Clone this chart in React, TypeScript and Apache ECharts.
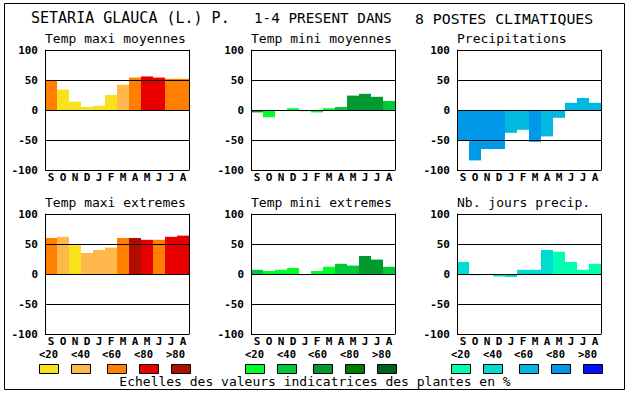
import React, { useEffect, useRef } from "react";
import * as echarts from "echarts";

const MONTHS = ["S", "O", "N", "D", "J", "F", "M", "A", "M", "J", "J", "A"];

const TITLE_PARTS = ["SETARIA GLAUCA (L.) P.", "1-4 PRESENT DANS", "8 POSTES CLIMATIQUES"];
const PANEL_TITLES = [
  "Temp maxi moyennes",
  "Temp mini moyennes",
  "Precipitations",
  "Temp maxi extremes",
  "Temp mini extremes",
  "Nb. jours precip.",
];
const Y_TICKS = [-100, -50, 0, 50, 100];
const LEGEND_LABELS = ["<20", "<40", "<60", "<80", ">80"];
const CAPTION = "Echelles des valeurs indicatrices des plantes en %";

// palettes (class 0..4 => <20 .. >80)
const PAL_TMAX = ["#f8e21c", "#ffb84c", "#ff8000", "#e80000", "#b00c00"];
const PAL_TMIN = ["#00ff24", "#00c838", "#009a30", "#007c00", "#006020"];
const PAL_PREC = ["#00ffb0", "#00dcd0", "#00b8e0", "#0098e8", "#0010ff"];

// series values and their indicator classes
const TMAX_MOY = [50, 34, 14, 5, 7, 25, 42, 54, 56, 54, 52, 52];
const TMAX_MOY_CLS = [2, 0, 0, 0, 0, 0, 1, 2, 3, 3, 2, 2];
const TMIN_MOY = [-4, -12, 0, 3, -2, -4, 3, 5, 24, 27, 22, 15];
const TMIN_MOY_CLS = [2, 0, 0, 0, 0, 0, 0, 1, 2, 2, 2, 1];
const PRECIP = [-50, -84, -65, -65, -38, -33, -53, -44, -13, 12, 20, 12];
const PRECIP_CLS = [3, 3, 3, 3, 2, 2, 3, 2, 2, 2, 2, 2];
const TMAX_EXT = [60, 62, 48, 35, 40, 44, 60, 60, 57, 57, 62, 64];
const TMAX_EXT_CLS = [2, 1, 0, 1, 1, 1, 2, 4, 3, 2, 3, 3];
const TMIN_EXT = [7, 5, 7, 10, 0, 5, 12, 17, 14, 30, 24, 12];
const TMIN_EXT_CLS = [1, 0, 0, 0, 0, 0, 0, 1, 1, 2, 2, 1];
const NB_JOURS = [20, -2, 0, -4, -5, 7, 7, 40, 37, 20, 7, 17];
const NB_JOURS_CLS = [1, 1, 1, 1, 1, 1, 1, 1, 0, 0, 0, 0];

const FONT = '"DejaVu Sans Mono", "Liberation Mono", monospace';

export default function App() {
  const ref = useRef<HTMLDivElement>(null);

  useEffect(() => {
    if (!ref.current) return;
    const chart = echarts.init(ref.current, undefined, { renderer: "svg" });

    const panels = [
      { vals: TMAX_MOY, cls: TMAX_MOY_CLS, pal: PAL_TMAX },
      { vals: TMIN_MOY, cls: TMIN_MOY_CLS, pal: PAL_TMIN },
      { vals: PRECIP, cls: PRECIP_CLS, pal: PAL_PREC },
      { vals: TMAX_EXT, cls: TMAX_EXT_CLS, pal: PAL_TMAX },
      { vals: TMIN_EXT, cls: TMIN_EXT_CLS, pal: PAL_TMIN },
      { vals: NB_JOURS, cls: NB_JOURS_CLS, pal: PAL_PREC },
    ];
    const palettes = [PAL_TMAX, PAL_TMIN, PAL_PREC];

    const COL_X = [45, 251, 457];
    const ROW_Y = [50, 214];
    const GW = 144;
    const GH = 120;

    const grids: any[] = [];
    const xAxes: any[] = [];
    const yAxes: any[] = [];
    const series: any[] = [];
    const graphics: any[] = [];

    const txt = (text: string, x: number, y: number, size: number, weight: string, align: string) => ({
      type: "text",
      x,
      y,
      silent: true,
      style: {
        text,
        fill: "#000",
        fontSize: size,
        fontFamily: FONT,
        fontWeight: weight,
        align,
        textAlign: align,
        verticalAlign: "middle",
        textVerticalAlign: "middle",
      },
    });

    panels.forEach((p, i) => {
      const gx = COL_X[i % 3];
      const gy = ROW_Y[Math.floor(i / 3)];
      grids.push({ left: gx, top: gy, width: GW, height: GH, show: false });
      xAxes.push({
        type: "category",
        gridIndex: i,
        data: MONTHS.map((_, k) => String(k)),
        axisLine: { show: false },
        axisTick: { show: false },
        splitLine: { show: false },
        axisLabel: {
          interval: 0,
          margin: 2,
          formatter: (_v: string, k: number) => MONTHS[k],
          fontFamily: FONT,
          fontWeight: "bold",
          fontSize: 11,
          color: "#000",
        },
      });
      yAxes.push({
        type: "value",
        gridIndex: i,
        min: Y_TICKS[0],
        max: Y_TICKS[Y_TICKS.length - 1],
        interval: 50,
        z: 10,
        position: "left",
        axisLine: { show: true, lineStyle: { color: "#000", width: 1 } },
        axisTick: { show: false },
        splitLine: { show: true, lineStyle: { color: "#000", width: 1 } },
        axisLabel: {
          margin: 7,
          fontFamily: FONT,
          fontWeight: "bold",
          fontSize: 11,
          color: "#000",
        },
      });
      yAxes.push({
        type: "value",
        gridIndex: i,
        min: Y_TICKS[0],
        max: Y_TICKS[Y_TICKS.length - 1],
        interval: 50,
        z: 10,
        position: "right",
        axisLine: { show: true, onZero: false, lineStyle: { color: "#000", width: 1 } },
        axisTick: { show: false },
        splitLine: { show: false },
        axisLabel: { show: false },
      });
      series.push({
        type: "bar",
        xAxisIndex: i,
        yAxisIndex: i * 2,
        barCategoryGap: 0,
        barWidth: "100%",
        z: 2,
        silent: true,
        data: p.vals.map((v, k) => ({ value: v, itemStyle: { color: p.pal[p.cls[k]] } })),
      });
      graphics.push(txt(PANEL_TITLES[i], gx, gy - 12, 13, "normal", "left"));
    });

    // page border
    graphics.push({
      type: "rect",
      shape: { x: 4.5, y: 3.5, width: 620, height: 386 },
      style: { fill: "none", stroke: "#000", lineWidth: 1 },
      silent: true,
    });

    // main title
    const TITLE_X = [31, 254, 415];
    const TITLE_SIZE = [15, 14.3, 14.8];
    TITLE_PARTS.forEach((t, k) => graphics.push(txt(t, TITLE_X[k], 18, TITLE_SIZE[k], "normal", "left")));

    // legends
    const LAB_OFF = [0, 32, 63, 95, 127];
    const SW_OFF = [0, 32, 68, 100, 132];
    palettes.forEach((pal, g) => {
      const gx0 = COL_X[g] - 6;
      LEGEND_LABELS.forEach((lab, k) => {
        graphics.push(txt(lab, gx0 + LAB_OFF[k], 354, 10.5, "bold", "left"));
        graphics.push({
          type: "rect",
          silent: true,
          shape: { x: gx0 + SW_OFF[k] + 0.5, y: 364.5, width: 19, height: 9 },
          style: { fill: pal[k], stroke: "#000", lineWidth: 1 },
        });
      });
    });

    graphics.push(txt(CAPTION, 315, 381, 13, "normal", "center"));

    chart.setOption({
      animation: false,
      backgroundColor: "#fff",
      grid: grids,
      xAxis: xAxes,
      yAxis: yAxes,
      series,
      graphic: { elements: graphics },
    });

    return () => chart.dispose();
  }, []);

  return (
    <div
      ref={ref}
      style={{ position: "absolute", left: 0, top: 0, width: 630, height: 394, background: "#fff" }}
    />
  );
}
